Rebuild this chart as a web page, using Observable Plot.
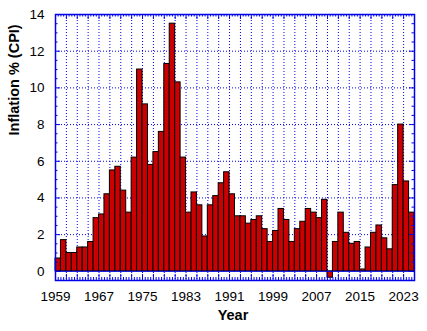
<!DOCTYPE html>
<html><head><meta charset="utf-8">
<script src="https://cdn.jsdelivr.net/npm/d3@7"></script>
<script src="https://cdn.jsdelivr.net/npm/@observablehq/plot@0.6"></script>
<style>body{margin:0;background:#fff} #chart svg{display:block}</style>
</head><body><div id="chart"></div>
<script>
const years = [
  1959,1960,1961,1962,1963,1964,1965,1966,1967,1968,
  1969,1970,1971,1972,1973,1974,1975,1976,1977,1978,
  1979,1980,1981,1982,1983,1984,1985,1986,1987,1988,
  1989,1990,1991,1992,1993,1994,1995,1996,1997,1998,
  1999,2000,2001,2002,2003,2004,2005,2006,2007,2008,
  2009,2010,2011,2012,2013,2014,2015,2016,2017,2018,
  2019,2020,2021,2022,2023,2024
];
const inflation = [
  0.7,1.7,1.0,1.0,1.3,1.3,1.6,2.9,3.1,4.2,
  5.5,5.7,4.4,3.2,6.2,11.0,9.1,5.8,6.5,7.6,
  11.3,13.5,10.3,6.2,3.2,4.3,3.6,1.9,3.6,4.1,
  4.8,5.4,4.2,3.0,3.0,2.6,2.8,3.0,2.3,1.6,
  2.2,3.4,2.8,1.6,2.3,2.7,3.4,3.2,2.9,3.9,
  -0.35,1.6,3.2,2.1,1.5,1.6,0.1,1.3,2.1,2.5,
  1.8,1.2,4.7,8.0,4.9,3.2
];
const xTickLabels = [1959,1967,1975,1983,1991,1999,2007,2015,2023];
const yTickLabels = [0,2,4,6,8,10,12,14];
const xTitle = "Year";
const yTitle = "Inflation % (CPI)";

const data = years.map((year, i) => ({year, value: inflation[i]}));

const blue = "#0000ee";
const W = 427, H = 331, mL = 55, mR = 13, mT = 14, mB = 51;
const fw = W - mL - mR, fh = H - mT - mB;

const xMajor = d3.range(1959, 2025.01, 2);
const xMinor = d3.range(1959, 2025.01, 0.5).filter(v => !xMajor.includes(v));
const yMajor = yTickLabels;
const yMinor = d3.range(-0.5, 14.01, 0.5).filter(v => !yMajor.includes(v));

const chart = Plot.plot({
  width: W, height: H,
  marginLeft: mL, marginRight: mR, marginTop: mT, marginBottom: mB,
  style: {fontFamily: "'Liberation Sans', Arial, sans-serif", fontSize: "13.5px", color: "black", background: "white", overflow: "visible"},
  x: {domain: [1959, 2025]},
  y: {domain: [-0.5, 14]},
  marks: [
    Plot.ruleX(xMajor.filter(v => v > 1959 && v < 2025), {x: d => d, stroke: blue, strokeWidth: 1, strokeDasharray: "1,2"}),
    Plot.ruleY(yMajor.filter(v => v > 0 && v < 14), {y: d => d, stroke: blue, strokeWidth: 1, strokeDasharray: "1,2"}),
    Plot.rect(data, {x1: "year", x2: d => d.year + 1, y1: 0, y2: "value", fill: "#cc0000", stroke: "black", strokeWidth: 1}),
    Plot.ruleY([0], {y: d => d, stroke: blue, strokeWidth: 1}),
    // bottom ticks
    Plot.tickX(xMajor, {x: d => d, stroke: blue, insetTop: fh - 6}),
    Plot.tickX(xMinor, {x: d => d, stroke: blue, insetTop: fh - 3}),
    // top ticks
    Plot.tickX(xMajor, {x: d => d, stroke: blue, insetBottom: fh - 5}),
    Plot.tickX(xMinor, {x: d => d, stroke: blue, insetBottom: fh - 2.5}),
    // left ticks
    Plot.tickY(yMajor, {y: d => d, stroke: blue, insetRight: fw - 5}),
    Plot.tickY(yMinor, {y: d => d, stroke: blue, insetRight: fw - 2.5}),
    // right ticks
    Plot.tickY(yMajor, {y: d => d, stroke: blue, insetLeft: fw - 5}),
    Plot.tickY(yMinor, {y: d => d, stroke: blue, insetLeft: fw - 2.5}),
    Plot.frame({stroke: blue, strokeWidth: 1.5}),
    Plot.axisX(xTickLabels, {tickSize: 0, tickPadding: 11, tickFormat: d => String(d), label: null}),
    Plot.axisY(yTickLabels, {tickSize: 0, tickPadding: 11, tickFormat: d => String(d), label: null}),
    Plot.text([xTitle], {frameAnchor: "bottom", dy: 39, dx: -2, fontWeight: "bold", fontSize: 14.5}),
    Plot.text([yTitle], {frameAnchor: "left", dx: -41.5, dy: -12, rotate: -90, fontWeight: "bold", fontSize: 14.5})
  ]
});
document.getElementById("chart").append(chart);
</script>
</body></html>
